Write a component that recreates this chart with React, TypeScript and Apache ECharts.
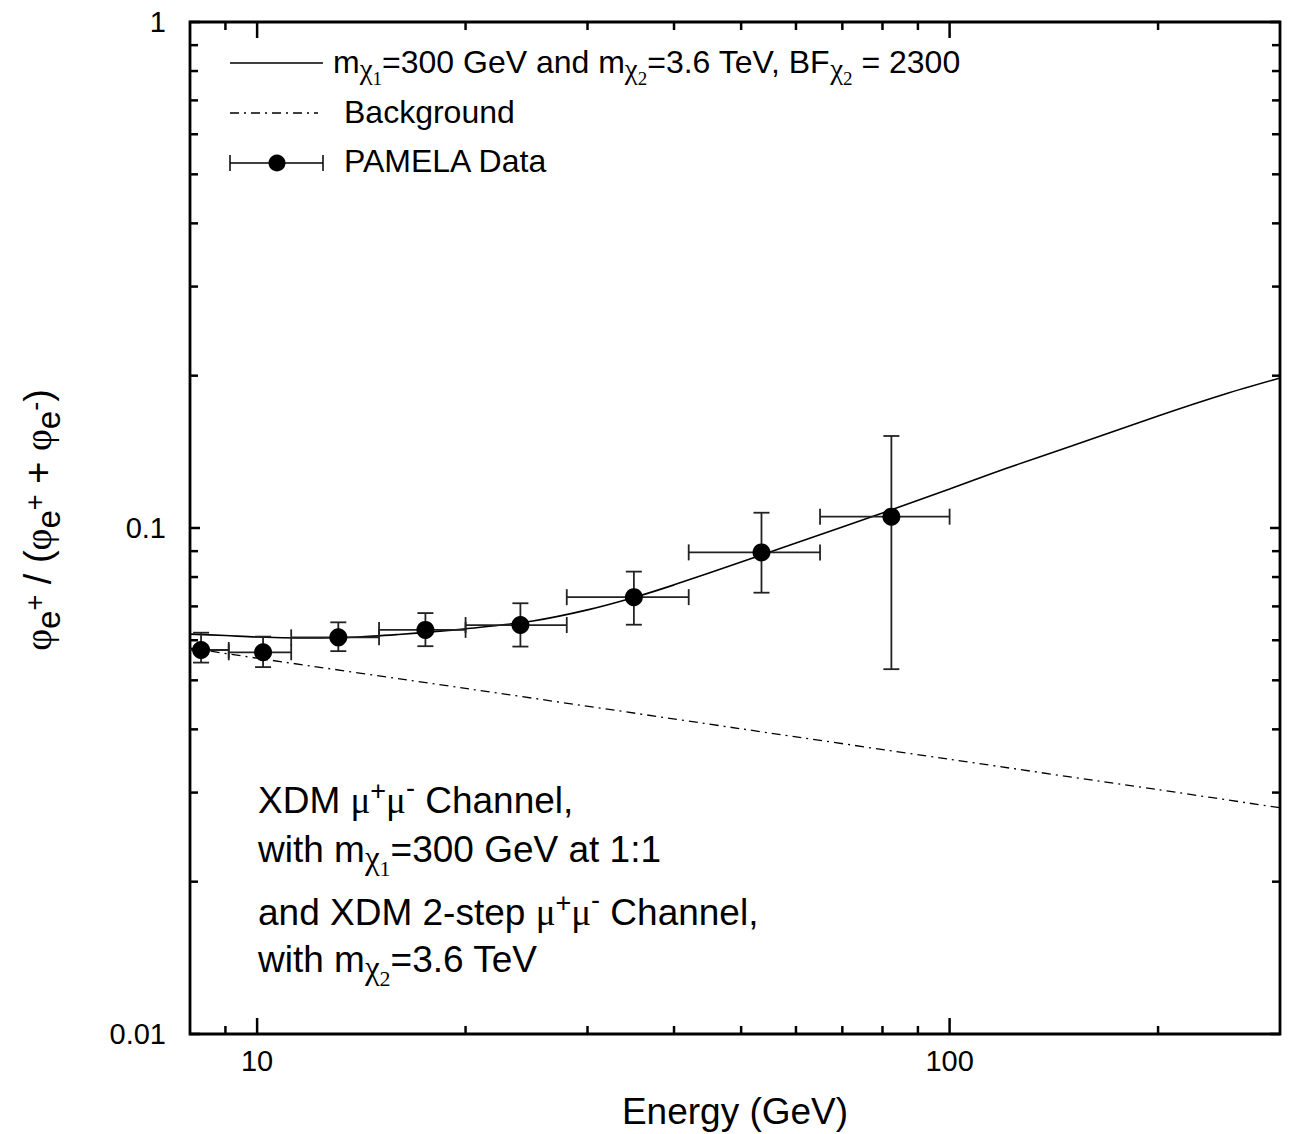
import React, { useEffect, useRef } from 'react';
import * as echarts from 'echarts';

// ---------- axis ranges & ticks ----------
const X_MIN = 8;
const X_MAX = 300;
const Y_MIN = 0.01;
const Y_MAX = 1;
const xMajorTicks = [10, 100];
const xTickLabels = ['10', '100'];
const xMinorTicks = [9, 20, 30, 40, 50, 60, 70, 80, 90, 200];
const yMajorTicks = [0.01, 0.1, 1];
const yTickLabels = ['0.01', '0.1', '1'];
const yMinorTicks = [0.02, 0.03, 0.04, 0.05, 0.06, 0.07, 0.08, 0.09, 0.2, 0.3, 0.4, 0.5, 0.6, 0.7, 0.8, 0.9];

// ---------- PAMELA data ----------
const pamelaEnergy = [8.3, 10.2, 13.1, 17.5, 24.0, 35.0, 53.5, 82.4];
const pamelaBinLow = [7.4, 9.1, 11.2, 15, 20, 28, 42, 65];
const pamelaBinHigh = [9.1, 11.2, 15, 20, 28, 42, 65, 100];
const pamelaFraction = [0.0574, 0.0568, 0.0608, 0.0629, 0.0643, 0.073, 0.0895, 0.1053];
const pamelaErrLow = [0.0542, 0.0531, 0.0571, 0.0584, 0.0583, 0.0644, 0.0745, 0.0526];
const pamelaErrHigh = [0.0621, 0.061, 0.0651, 0.0679, 0.071, 0.082, 0.1072, 0.152];

// ---------- model curve (signal + background) ----------
const modelEnergy = [8, 9, 10, 12, 14, 16, 18, 20, 25, 30, 35, 40, 50, 60, 70, 80, 100, 120, 150, 200, 250, 300];
const modelFraction = [0.0617, 0.0613, 0.0609, 0.0606, 0.0609, 0.0616, 0.0624, 0.0632, 0.0655, 0.0689, 0.0729, 0.0772, 0.0857, 0.0934, 0.1005, 0.1071, 0.1194, 0.1308, 0.1452, 0.1665, 0.184, 0.1979];

// ---------- background curve ----------
const bgEnergy = [8, 10, 20, 50, 100, 200, 300];
const bgFraction = [0.0579, 0.0553, 0.0482, 0.0401, 0.0349, 0.0304, 0.028];

const SANS = '"Liberation Sans", Arial, Helvetica, sans-serif';
const SERIF = '"Liberation Serif", "Times New Roman", serif';

type Run = { t: string; s: number; f?: 'sans' | 'serif'; dy?: number };

let measureCtx: CanvasRenderingContext2D | null = null;
function textWidth(t: string, size: number, fam: string): number {
  if (!measureCtx) measureCtx = document.createElement('canvas').getContext('2d');
  if (!measureCtx) return t.length * size * 0.55;
  measureCtx.font = `${size}px ${fam}`;
  return measureCtx.measureText(t).width;
}
function runsWidth(runs: Run[]): number {
  return runs.reduce((a, r) => a + textWidth(r.t, r.s, r.f === 'serif' ? SERIF : SANS), 0);
}
function buildRuns(runs: Run[], x: number, baseline: number): any[] {
  let cx = x;
  const out: any[] = [];
  for (const r of runs) {
    const fam = r.f === 'serif' ? SERIF : SANS;
    const lead = (r.t.match(/^\s*/) as RegExpMatchArray)[0];
    const trimmed = r.t.trim();
    const k = r.f === 'serif' ? 0.34 : 0.35;
    if (trimmed.length) {
      out.push({
        type: 'text',
        x: cx + textWidth(lead, r.s, fam),
        y: baseline + (r.dy || 0) - k * r.s,
        silent: true,
        style: {
          text: trimmed,
          fontSize: r.s,
          fontFamily: fam,
          fill: '#000',
          textAlign: 'left',
          textVerticalAlign: 'middle',
        },
      });
    }
    cx += textWidth(r.t, r.s, fam);
  }
  return out;
}

const chiSub = (n: string, main: number): Run[] => [
  { t: 'χ', s: Math.round(main * 0.9), f: 'serif', dy: Math.round(main * 0.2) },
  { t: n, s: Math.round(main * 0.6), f: 'serif', dy: Math.round(main * 0.38) },
];
const muPair = (main: number): Run[] => [
  { t: 'μ', s: main, f: 'serif' },
  { t: '+', s: Math.round(main * 0.72), dy: -Math.round(main * 0.36) },
  { t: 'μ', s: main, f: 'serif' },
  { t: '-', s: Math.round(main * 0.72), dy: -Math.round(main * 0.42) },
];

function buildOption() {
  const FS = 32; // legend
  const AS = 37; // annotation
  const legendLine1: Run[] = [
    { t: 'm', s: FS },
    ...chiSub('1', FS),
    { t: '=300 GeV and m', s: FS },
    ...chiSub('2', FS),
    { t: '=3.6 TeV, BF', s: FS },
    ...chiSub('2', FS),
    { t: ' = 2300', s: FS },
  ];
  const ann1: Run[] = [{ t: 'XDM ', s: AS }, ...muPair(AS), { t: ' Channel,', s: AS }];
  const ann2: Run[] = [{ t: 'with m', s: AS }, ...chiSub('1', AS), { t: '=300 GeV at 1:1', s: AS }];
  const ann3: Run[] = [{ t: 'and XDM 2-step ', s: AS }, ...muPair(AS), { t: ' Channel,', s: AS }];
  const ann4: Run[] = [{ t: 'with m', s: AS }, ...chiSub('2', AS), { t: '=3.6 TeV', s: AS }];

  const TS = 38;
  const phiE = (sign: string): Run[] => [
    { t: 'φ', s: TS, f: 'serif' },
    { t: 'e', s: 33, dy: 9 },
    { t: sign, s: 27, dy: -7 },
  ];
  const yTitle: Run[] = [
    ...phiE('+'),
    { t: ' / (', s: TS },
    ...phiE('+'),
    { t: ' + ', s: TS },
    ...phiE('-'),
    { t: ')', s: TS },
  ];
  const yTitleW = runsWidth(yTitle);
  const xTitle: Run[] = [{ t: 'Energy (GeV)', s: 37 }];
  const xTitleW = runsWidth(xTitle);

  const lineSt = { stroke: '#000', lineWidth: 1.5 };
  const graphic: any[] = [
    // legend: solid line
    { type: 'line', silent: true, shape: { x1: 230, y1: 63, x2: 323, y2: 63 }, style: lineSt },
    ...buildRuns(legendLine1, 333, 73),
    // legend: dash-dot
    { type: 'line', silent: true, shape: { x1: 230, y1: 113, x2: 318, y2: 113 }, style: { stroke: '#000', lineWidth: 1.3, lineDash: [9, 5, 2, 5] } },
    ...buildRuns([{ t: 'Background', s: FS }], 344, 123),
    // legend: data
    { type: 'line', silent: true, shape: { x1: 230, y1: 163, x2: 323, y2: 163 }, style: lineSt },
    { type: 'line', silent: true, shape: { x1: 230, y1: 155, x2: 230, y2: 171 }, style: lineSt },
    { type: 'line', silent: true, shape: { x1: 323, y1: 155, x2: 323, y2: 171 }, style: lineSt },
    { type: 'circle', silent: true, shape: { cx: 277, cy: 163, r: 8.5 }, style: { fill: '#000' } },
    ...buildRuns([{ t: 'PAMELA Data', s: FS }], 344, 172),
    // annotation
    ...buildRuns(ann1, 258, 813),
    ...buildRuns(ann2, 258, 862),
    ...buildRuns(ann3, 258, 925),
    ...buildRuns(ann4, 258, 972),
    // axis titles
    ...buildRuns(xTitle, 735 - xTitleW / 2, 1124),
    {
      type: 'group',
      x: 51,
      y: 520,
      rotation: Math.PI / 2,
      children: buildRuns(yTitle, -yTitleW / 2, 0),
    },
  ];

  const xTickData = [
    ...xMajorTicks.map((v, i) => [v, Y_MIN, 1, i]),
    ...xMinorTicks.map((v) => [v, Y_MIN, 0, -1]),
  ];
  const yTickData = [
    ...yMajorTicks.map((v, i) => [X_MIN, v, 1, i]),
    ...yMinorTicks.map((v) => [X_MIN, v, 0, -1]),
  ];
  const tickStyle = { stroke: '#000', lineWidth: 2.5 };

  return {
    animation: false,
    backgroundColor: '#fff',
    grid: {
      left: 190,
      top: 22,
      width: 1090,
      height: 1012,
      show: true,
      borderColor: '#000',
      borderWidth: 2.8,
      backgroundColor: 'transparent',
    },
    xAxis: {
      type: 'log',
      logBase: 10,
      min: X_MIN,
      max: X_MAX,
      axisLine: { show: false },
      axisTick: { show: false },
      axisLabel: { show: false },
      splitLine: { show: false },
    },
    yAxis: {
      type: 'log',
      logBase: 10,
      min: Y_MIN,
      max: Y_MAX,
      axisLine: { show: false },
      axisTick: { show: false },
      axisLabel: { show: false },
      splitLine: { show: false },
    },
    graphic,
    series: [
      {
        name: 'xticks',
        type: 'custom',
        data: xTickData,
        encode: { x: 0, y: 1 },
        silent: true,
        z: 5,
        renderItem: (params: any, api: any) => {
          const v = api.value(0);
          const major = api.value(2) === 1;
          const idx = api.value(3);
          const cs = params.coordSys;
          const px = api.coord([v, Y_MIN])[0];
          const bottom = cs.y + cs.height;
          const len = major ? 16 : 8;
          const children: any[] = [
            { type: 'line', shape: { x1: px, y1: bottom, x2: px, y2: bottom - len }, style: tickStyle },
            { type: 'line', shape: { x1: px, y1: cs.y, x2: px, y2: cs.y + len }, style: tickStyle },
          ];
          if (major) {
            children.push({
              type: 'text',
              x: px,
              y: bottom + 27,
              style: { text: xTickLabels[idx], fontSize: 29, fontFamily: SANS, fill: '#000', textAlign: 'center', textVerticalAlign: 'middle' },
            });
          }
          return { type: 'group', children };
        },
      },
      {
        name: 'yticks',
        type: 'custom',
        data: yTickData,
        encode: { x: 0, y: 1 },
        silent: true,
        z: 5,
        renderItem: (params: any, api: any) => {
          const v = api.value(1);
          const major = api.value(2) === 1;
          const idx = api.value(3);
          const cs = params.coordSys;
          const py = api.coord([X_MIN, v])[1];
          const right = cs.x + cs.width;
          const len = major ? 10 : 8;
          const children: any[] = [
            { type: 'line', shape: { x1: cs.x, y1: py, x2: cs.x + len, y2: py }, style: tickStyle },
            { type: 'line', shape: { x1: right, y1: py, x2: right - len, y2: py }, style: tickStyle },
          ];
          if (major) {
            children.push({
              type: 'text',
              x: cs.x - 24,
              y: py,
              style: { text: yTickLabels[idx], fontSize: 29, fontFamily: SANS, fill: '#000', textAlign: 'right', textVerticalAlign: 'middle' },
            });
          }
          return { type: 'group', children };
        },
      },
      {
        name: 'Background',
        type: 'line',
        data: bgEnergy.map((e, i) => [e, bgFraction[i]]),
        showSymbol: false,
        smooth: 0.3,
        lineStyle: { color: '#000', width: 1.3, type: [9, 5, 2, 5] },
        z: 3,
      },
      {
        name: 'Model',
        type: 'line',
        data: modelEnergy.map((e, i) => [e, modelFraction[i]]),
        showSymbol: false,
        smooth: 0.3,
        lineStyle: { color: '#000', width: 1.6 },
        z: 3,
      },
      {
        name: 'PAMELA errors',
        type: 'custom',
        clip: true,
        silent: true,
        data: pamelaEnergy.map((e, i) => [e, pamelaFraction[i], pamelaBinLow[i], pamelaBinHigh[i], pamelaErrLow[i], pamelaErrHigh[i]]),
        encode: { x: 0, y: 1 },
        z: 4,
        renderItem: (params: any, api: any) => {
          const c = api.coord([api.value(0), api.value(1)]);
          const l = api.coord([api.value(2), api.value(1)]);
          const r = api.coord([api.value(3), api.value(1)]);
          const t = api.coord([api.value(0), api.value(5)]);
          const b = api.coord([api.value(0), api.value(4)]);
          const cap = 8;
          const st = { stroke: '#222', lineWidth: 1.8 };
          return {
            type: 'group',
            children: [
              { type: 'line', shape: { x1: l[0], y1: c[1], x2: r[0], y2: c[1] }, style: st },
              { type: 'line', shape: { x1: l[0], y1: c[1] - cap, x2: l[0], y2: c[1] + cap }, style: st },
              { type: 'line', shape: { x1: r[0], y1: c[1] - cap, x2: r[0], y2: c[1] + cap }, style: st },
              { type: 'line', shape: { x1: c[0], y1: t[1], x2: c[0], y2: b[1] }, style: st },
              { type: 'line', shape: { x1: c[0] - cap, y1: t[1], x2: c[0] + cap, y2: t[1] }, style: st },
              { type: 'line', shape: { x1: c[0] - cap, y1: b[1], x2: c[0] + cap, y2: b[1] }, style: st },
            ],
          };
        },
      },
      {
        name: 'PAMELA Data',
        type: 'scatter',
        data: pamelaEnergy.map((e, i) => [e, pamelaFraction[i]]),
        symbol: 'circle',
        symbolSize: 18,
        itemStyle: { color: '#000', opacity: 1 },
        z: 6,
      },
    ],
  };
}

export default function App() {
  const ref = useRef<HTMLDivElement>(null);
  useEffect(() => {
    if (!ref.current) return;
    const chart = echarts.init(ref.current, null, { renderer: 'svg' });
    chart.setOption(buildOption() as any);
    return () => chart.dispose();
  }, []);
  return (
    <div
      ref={ref}
      style={{ position: 'fixed', left: 0, top: 0, width: 1298, height: 1134, background: '#fff' }}
    />
  );
}
